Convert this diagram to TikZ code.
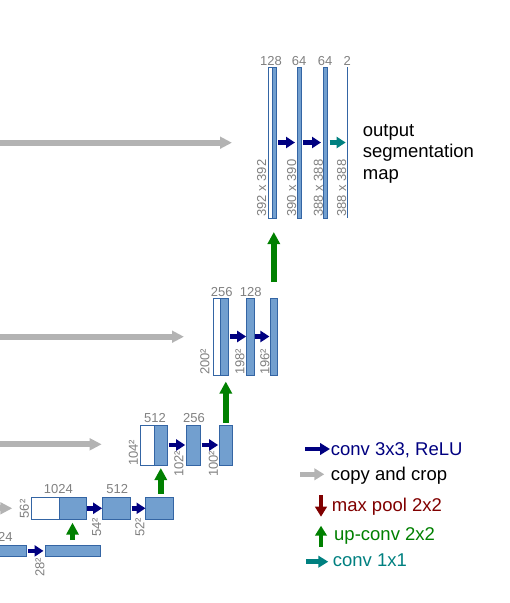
\documentclass[tikz,border=0pt]{standalone}
\usepackage{fontspec}
\setmainfont{Liberation Sans}
\usetikzlibrary{arrows.meta}
\definecolor{boxfill}{HTML}{729FCF}
\definecolor{boxline}{HTML}{3465A4}
\definecolor{lblgray}{HTML}{808080}
\definecolor{copygray}{HTML}{B3B3B3}
\definecolor{convnavy}{HTML}{000080}
\definecolor{upgreen}{HTML}{008000}
\definecolor{convteal}{HTML}{008080}
\definecolor{pooldred}{HTML}{800000}
\begin{document}
\begin{tikzpicture}[x=1pt,y=-1pt,
 fm/.style={draw=boxline, fill=boxfill, line width=0.9pt, inner sep=0pt, outer sep=0pt},
 fmw/.style={fm, fill=white},
 dim/.style={text=lblgray, font=\fontsize{13}{15}\selectfont, inner sep=0pt},
 ch/.style={dim, anchor=base},
 sz/.style={dim, rotate=90, anchor=west},
 convarr/.style={draw=convnavy, line width=4.5pt, -{Triangle[length=9pt,width=11pt]}},
 tealarr/.style={convarr, draw=convteal},
 copyarr/.style={draw=copygray, line width=6pt, -{Triangle[length=12pt,width=11.5pt]}},
 uparr/.style={draw=upgreen, line width=5.5pt, -{Triangle[length=12pt,width=12pt]}},
 legarr/.style={line width=4.5pt, -{Triangle[length=10pt,width=11.5pt]}},
 legtxt/.style={anchor=base west, inner sep=0pt, font=\fontsize{18.5}{21}\selectfont},
]
\useasboundingbox (0,0) rectangle (510,603);

% ---------- copy and crop arrows ----------
\coordinate (g1s) at (-10,142.7); \coordinate (g1e) at (232,142.7);
\coordinate (g2s) at (-10,336.7); \coordinate (g2e) at (184,336.7);
\coordinate (g3s) at (-10,444.3); \coordinate (g3e) at (101.7,444.3);
\coordinate (g4s) at (-10,508.3); \coordinate (g4e) at (12.3,508.3);
\draw[copyarr] (g1s) -- (g1e);
\draw[copyarr] (g2s) -- (g2e);
\draw[copyarr] (g3s) -- (g3e);
\draw[copyarr] (g4s) -- (g4e);

% ---------- level 1 ----------
\node[fmw, minimum width=4pt, minimum height=151pt] (w1) at (270,142.5) {};
\node[fm, minimum width=4pt, minimum height=151pt] (b1) at (274,142.5) {};
\node[fm, minimum width=4pt, minimum height=151pt] (c1) at (299,142.5) {};
\node[fm, minimum width=4pt, minimum height=151pt] (d1) at (325,142.5) {};
\node[fill=boxline, inner sep=0pt, outer sep=0pt, minimum width=1.3pt, minimum height=151pt] (o1) at (347.3,142.5) {};
\node[ch] (l1a) at (271,65) {128};
\node[ch] (l1b) at (299,65) {64};
\node[ch] (l1c) at (325,65) {64};
\node[ch] (l1d) at (347.3,65) {2};
\node[sz] (s1a) at (261.7,217) {392 x 392};
\node[sz] (s1b) at (291.7,217) {390 x 390};
\node[sz] (s1c) at (318.3,217) {388 x 388};
\node[sz] (s1d) at (341.7,217) {388 x 388};
\draw[convarr] ([xshift=2pt]b1.east) -- ([xshift=-2pt]c1.west);
\draw[convarr] ([xshift=2pt]c1.east) -- ([xshift=-2pt]d1.west);
\draw[tealarr] ([xshift=2.5pt]d1.east) -- ([xshift=-1pt]o1.west);
\node[legtxt] (t1) at (362.7,136) {output};
\node[legtxt] (t2) at (362.7,157.7) {segmentation};
\node[legtxt] (t3) at (362.7,179) {map};

% ---------- level 2 ----------
\node[fmw, minimum width=7.4pt, minimum height=77pt] (w2) at (217,336.5) {};
\node[fm, minimum width=7.6pt, minimum height=77pt] (b2) at (224.5,336.5) {};
\node[fm, minimum width=7.3pt, minimum height=77pt] (c2) at (250.3,336.5) {};
\node[fm, minimum width=7.7pt, minimum height=77pt] (d2) at (273.8,336.5) {};
\node[ch] (l2a) at (221.7,296) {256};
\node[ch] (l2b) at (250.7,296) {128};
\node[sz] (s2a) at (205,375) {200²};
\node[sz] (s2b) at (240,375) {198²};
\node[sz] (s2c) at (265,375) {196²};
\draw[convarr] ([xshift=2pt]b2.east) -- ([xshift=-0.5pt]c2.west);
\draw[convarr] ([xshift=1.5pt]c2.east) -- ([xshift=-0.5pt]d2.west);
\draw[uparr] ([yshift=16pt]d2.north) -- ([yshift=-14pt]d2.north |- b1.south);

% ---------- level 3 ----------
\node[fmw, minimum width=14pt, minimum height=40pt] (w3) at (147,445) {};
\node[fm, minimum width=13.7pt, minimum height=40pt] (b3) at (160.8,445) {};
\node[fm, minimum width=14pt, minimum height=40pt] (c3) at (193,445) {};
\node[fm, minimum width=13.7pt, minimum height=40pt] (d3) at (225.8,445) {};
\node[ch] (l3a) at (155,422.7) {512};
\node[ch] (l3b) at (194,422.7) {256};
\node[sz] (s3a) at (133.3,466) {104²};
\node[sz] (s3b) at (179,477) {102²};
\node[sz] (s3c) at (213.3,477) {100²};
\draw[convarr] ([xshift=1.3pt]b3.east) -- ([xshift=-0.8pt]c3.west);
\draw[convarr] ([xshift=1.5pt]c3.east) -- ([xshift=-0.8pt]d3.west);
\draw[uparr] ([yshift=2pt]d3.north) -- ([yshift=-6.5pt]d3.north |- b2.south);

% ---------- level 4 ----------
\node[fmw, minimum width=28pt, minimum height=21.3pt] (w4) at (45,508.3) {};
\node[fm, minimum width=27.7pt, minimum height=21.3pt] (b4) at (72.8,508.3) {};
\node[fm, minimum width=28.4pt, minimum height=21.3pt] (c4) at (116.5,508.3) {};
\node[fm, minimum width=27.6pt, minimum height=21.3pt] (d4) at (159.5,508.3) {};
\node[ch] (l4a) at (58.3,493.3) {1024};
\node[ch] (l4b) at (117.3,493.3) {512};
\node[sz] (s4a) at (24.3,518.5) {56²};
\node[sz] (s4b) at (96.7,536.7) {54²};
\node[sz] (s4c) at (140,537) {52²};
\draw[convarr] ([xshift=0.8pt]b4.east) -- ([xshift=-0.2pt]c4.west);
\draw[convarr] ([xshift=1pt]c4.east) -- ([xshift=-0.2pt]d4.west);
\draw[uparr] ([yshift=4pt]b3.south |- d4.north) -- ([yshift=-3pt]b3.south);

% ---------- level 5 ----------
\node[fm, minimum width=40pt, minimum height=11.7pt] (b5) at (6.7,550.9) {};
\node[fm, minimum width=55pt, minimum height=11.7pt] (c5) at (72.5,550.9) {};
\node[dim, anchor=base east] (l5a) at (12.7,541.7) {1024};
\node[sz] (s5a) at (40,576.7) {28²};
\draw[convarr] ([xshift=1.5pt]b5.east) -- ([xshift=-1.5pt]c5.west);
\draw[uparr] ([yshift=5pt]c5.north) -- ([yshift=-3.7pt]c5.north |- b4.south);

% ---------- legend ----------
\coordinate (k1s) at (305,449); \coordinate (k1e) at (330,449);
\coordinate (k2s) at (300,474.3); \coordinate (k2e) at (324.3,474.3);
\coordinate (k3s) at (321,495); \coordinate (k3e) at (321,516.7);
\coordinate (k4s) at (321,546.7); \coordinate (k4e) at (321,525.7);
\coordinate (k5s) at (306,561.7); \coordinate (k5e) at (328.3,561.7);
\draw[legarr, draw=convnavy] (k1s) -- (k1e);
\draw[legarr, draw=copygray] (k2s) -- (k2e);
\draw[legarr, draw=pooldred] (k3s) -- (k3e);
\draw[legarr, draw=upgreen] (k4s) -- (k4e);
\draw[legarr, draw=convteal] (k5s) -- (k5e);
\node[legtxt, text=convnavy] (e1) at (330.7,455) {conv 3x3, ReLU};
\node[legtxt, text=black] (e2) at (330.7,480) {copy and crop};
\node[legtxt, text=pooldred] (e3) at (331.7,511) {max pool 2x2};
\node[legtxt, text=upgreen] (e4) at (334,540) {up-conv 2x2};
\node[legtxt, text=convteal] (e5) at (332.7,566.7) {conv 1x1};
\end{tikzpicture}
\end{document}
